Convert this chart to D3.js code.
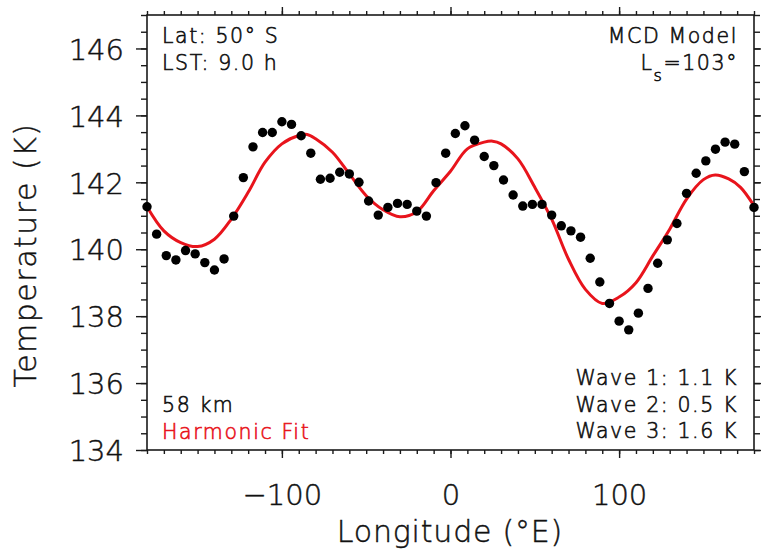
<!DOCTYPE html>
<html>
<head>
<meta charset="utf-8">
<script src="https://cdn.jsdelivr.net/npm/d3@7"></script>
<style>
body { margin: 0; background: #fff; }
text { font-family: "DejaVu Sans", sans-serif; font-weight: 200; fill: #111; stroke: #111; stroke-width: 0.45; }
</style>
</head>
<body>
<script>
var w = 761;
var h = 550;

// longitude of each model point (deg E)
var lons = [-180, -174.29, -168.57, -162.86, -157.14, -151.43, -145.71, -140,
    -134.29, -128.57, -122.86, -117.14, -111.43, -105.71, -100, -94.29,
    -88.57, -82.86, -77.14, -71.43, -65.71, -60, -54.29, -48.57,
    -42.86, -37.14, -31.43, -25.71, -20, -14.29, -8.57, -2.86,
    2.86, 8.57, 14.29, 20, 25.71, 31.43, 37.14, 42.86,
    48.57, 54.29, 60, 65.71, 71.43, 77.14, 82.86, 88.57,
    94.29, 100, 105.71, 111.43, 117.14, 122.86, 128.57, 134.29,
    140, 145.71, 151.43, 157.14, 162.86, 168.57, 174.29, 180];

// MCD temperatures (K)
var temps = [141.27, 140.45, 139.81, 139.68, 139.96, 139.86, 139.60, 139.38,
    139.71, 140.99, 142.14, 143.06, 143.49, 143.49, 143.81, 143.73,
    143.39, 142.87, 142.09, 142.12, 142.30, 142.25, 142.00, 141.44,
    141.02, 141.25, 141.37, 141.34, 141.14, 140.99, 141.99, 142.87,
    143.46, 143.69, 143.26, 142.77, 142.50, 142.07, 141.62, 141.29,
    141.34, 141.34, 141.02, 140.70, 140.55, 140.36, 139.73, 139.02,
    138.38, 137.85, 137.59, 138.09, 138.83, 139.58, 140.28, 140.77,
    141.67, 142.27, 142.64, 142.99, 143.20, 143.14, 142.32, 141.25];

// harmonic fit
var fitLons = [-180, -170, -160, -150, -140, -130, -120, -110, -100, -90, -85, -80,
    -70, -60, -50, -40, -30, -20, -10, 0, 10, 20, 25, 30, 40, 50, 60, 70,
    80, 90, 100, 110, 120, 130, 140, 150, 157, 165, 172, 180];
var fitTemps = [141.27, 140.55, 140.2, 140.08, 140.3, 140.9, 141.7, 142.6, 143.15, 143.4, 143.43, 143.3,
    142.9, 142.25, 141.6, 141.18, 140.97, 141.12, 141.75, 142.33, 143.0, 143.2, 143.23, 143.15, 142.7, 141.85, 140.9, 139.7,
    138.8, 138.38, 138.57, 139.0, 139.8, 140.6, 141.5, 142.08, 142.22, 142.1, 141.85, 141.3];

var xMajor = [-100, 0, 100];
var yMajor = [134, 136, 138, 140, 142, 144, 146];

var svg = d3.select("body").append("svg")
    .attr("width", w)
    .attr("height", h);

var x = d3.scaleLinear().domain([-180, 180]).range([147, 754]);
var y = d3.scaleLinear().domain([134, 147]).range([450, 15]);

var xMinor = d3.range(-180, 181, 10);
var yMinor = d3.range(134, 147.01, 0.5);

function styleAxis(g) {
    g.select(".domain").remove();
    g.selectAll("line").attr("stroke", "#1a1a1a").attr("stroke-width", 1.4);
}

// minor ticks
svg.append("g").attr("transform", "translate(0,450)")
    .call(d3.axisBottom(x).tickValues(xMinor).tickSize(4).tickFormat(""))
    .call(styleAxis);
svg.append("g").attr("transform", "translate(0,15)")
    .call(d3.axisTop(x).tickValues(xMinor).tickSize(4).tickFormat(""))
    .call(styleAxis);
svg.append("g").attr("transform", "translate(147,0)")
    .call(d3.axisLeft(y).tickValues(yMinor).tickSize(6).tickFormat(""))
    .call(styleAxis);
svg.append("g").attr("transform", "translate(754,0)")
    .call(d3.axisRight(y).tickValues(yMinor).tickSize(6).tickFormat(""))
    .call(styleAxis);

// major ticks
var xb = svg.append("g").attr("transform", "translate(0,450)")
    .call(d3.axisBottom(x).tickValues(xMajor).tickSize(8).tickPadding(25)
        .tickFormat(function(d) { return d < 0 ? "\u2212" + Math.abs(d) : d; }))
    .call(styleAxis);
xb.selectAll("text").attr("font-size", 29).attr("fill", "#111")
    .attr("dy", null).attr("y", 55);
svg.append("g").attr("transform", "translate(0,15)")
    .call(d3.axisTop(x).tickValues(xMajor).tickSize(8).tickFormat(""))
    .call(styleAxis);
var yl = svg.append("g").attr("transform", "translate(147,0)")
    .call(d3.axisLeft(y).tickValues(yMajor).tickSize(11).tickPadding(12))
    .call(styleAxis);
yl.selectAll("text").attr("font-size", 29).attr("fill", "#111").attr("dy", "0.37em");
svg.append("g").attr("transform", "translate(754,0)")
    .call(d3.axisRight(y).tickValues(yMajor).tickSize(8).tickFormat(""))
    .call(styleAxis);

// frame
svg.append("rect")
    .attr("x", 147).attr("y", 15)
    .attr("width", 754 - 147).attr("height", 450 - 15)
    .attr("fill", "none").attr("stroke", "#1a1a1a").attr("stroke-width", 1.6);

var plot = svg.append("g");

// fit curve
var line = d3.line()
    .x(function(d, i) { return x(fitLons[i]); })
    .y(function(d) { return y(d); })
    .curve(d3.curveCatmullRom);
plot.append("path")
    .datum(fitTemps)
    .attr("d", line)
    .attr("fill", "none")
    .attr("stroke", "#e8141c")
    .attr("stroke-width", 3);

// model points
plot.selectAll(".pt")
    .data(temps)
    .enter().append("circle")
    .attr("class", "pt")
    .attr("cx", function(d, i) { return x(lons[i]); })
    .attr("cy", function(d) { return y(d); })
    .attr("r", 4.7)
    .attr("fill", "#000");

// axis titles
svg.append("text")
    .attr("x", 450).attr("y", 542)
    .attr("text-anchor", "middle")
    .attr("font-size", 30)
    .attr("letter-spacing", 0.8)
    .text("Longitude (\u00b0E)");
svg.append("text")
    .attr("transform", "translate(36,255) rotate(-90)")
    .attr("text-anchor", "middle")
    .attr("font-size", 30)
    .attr("letter-spacing", 1.5)
    .text("Temperature (K)");

// annotations
var ann = svg.append("g").attr("font-size", 20.5).attr("letter-spacing", 1.6);
ann.selectAll("text").style("stroke-width", 0.6);
ann.append("text").attr("x", 162).attr("y", 43).text("Lat: 50\u00b0 S");
ann.append("text").attr("x", 162).attr("y", 70).text("LST: 9.0 h");
ann.append("text").attr("x", 738).attr("y", 43).attr("text-anchor", "end").text("MCD Model");
var ls = ann.append("text").attr("x", 738).attr("y", 70).attr("text-anchor", "end");
ls.append("tspan").text("L");
ls.append("tspan").attr("font-size", 16).attr("dy", 11).text("s");
ls.append("tspan").attr("dy", -11).text("=103\u00b0");
ann.append("text").attr("x", 162).attr("y", 412).text("58 km");
ann.append("text").attr("x", 162).attr("y", 439)
    .style("fill", "#e8141c").style("stroke", "#e8141c").text("Harmonic Fit");

var waves = ["Wave 1: 1.1 K", "Wave 2: 0.5 K", "Wave 3: 1.6 K"];
ann.selectAll(".wave")
    .data(waves)
    .enter().append("text")
    .attr("class", "wave")
    .attr("x", 738)
    .attr("y", function(d, i) { return 385 + i * 26.7; })
    .attr("text-anchor", "end")
    .text(function(d) { return d; });

ann.selectAll("text").style("stroke-width", 0.6);
</script>
</body>
</html>
